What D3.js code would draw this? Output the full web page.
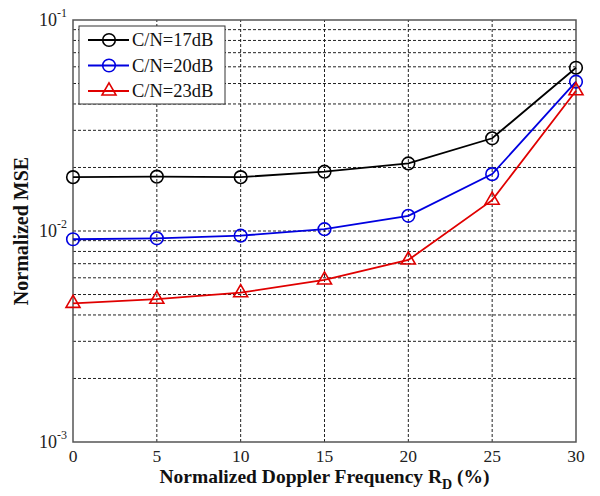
<!DOCTYPE html>
<html>
<head>
<meta charset="utf-8">
<script src="https://cdn.jsdelivr.net/npm/d3@7"></script>
<style>
  body { margin: 0; background: #fff; }
  svg text { font-family: "Liberation Serif", "Times New Roman", serif; }
</style>
</head>
<body>
<div id="chart"></div>
<script>
// data
const dopplerPct = [0, 5, 10, 15, 20, 25, 30];
const mse17 = [0.0180, 0.0181, 0.0180, 0.0191, 0.0209, 0.0275, 0.0594];
const mse20 = [0.00914, 0.00923, 0.0095, 0.0102, 0.0118, 0.0186, 0.0510];
const mse23 = [0.00454, 0.00475, 0.0051, 0.00586, 0.00729, 0.0140, 0.0462];
const seriesNames = ["C/N=17dB", "C/N=20dB", "C/N=23dB"];
const xTicks = [0, 5, 10, 15, 20, 25, 30];
const yDecades = [-3, -2, -1];

const width = 600, height = 496;
const margin = { left: 73, right: 24, top: 20, bottom: 54 };

const svg = d3.select("#chart").append("svg")
  .attr("width", width)
  .attr("height", height);

const x = d3.scaleLinear().domain([0, 30]).range([margin.left, width - margin.right]);
const y = d3.scaleLog().domain([1e-3, 1e-1]).range([height - margin.bottom, margin.top]);

// grid lines (dashed), minor log lines too
const grid = svg.append("g");
const yGrid = [];
for (let e = -3; e < -1; e++) {
  for (let m = 1; m <= 9; m++) {
    const v = m * Math.pow(10, e);
    if (v > 1e-3) yGrid.push(v);
  }
}
grid.selectAll("line.hg")
  .data(yGrid)
  .join("line")
  .attr("class", "hg")
  .attr("x1", x(0)).attr("x2", x(30))
  .attr("y1", d => y(d)).attr("y2", d => y(d))
  .attr("stroke", "#222")
  .attr("stroke-width", 1)
  .attr("stroke-dasharray", "3,2");
grid.selectAll("line.vg")
  .data(xTicks.slice(1, -1))
  .join("line")
  .attr("class", "vg")
  .attr("x1", d => x(d)).attr("x2", d => x(d))
  .attr("y1", y(1e-3)).attr("y2", y(1e-1))
  .attr("stroke", "#222")
  .attr("stroke-width", 1)
  .attr("stroke-dasharray", "3,2");

// axes box
svg.append("rect")
  .attr("x", x(0)).attr("y", y(1e-1))
  .attr("width", x(30) - x(0))
  .attr("height", y(1e-3) - y(1e-1))
  .attr("fill", "none")
  .attr("stroke", "#555")
  .attr("stroke-width", 1.5);

// x tick labels
svg.append("g")
  .selectAll("text")
  .data(xTicks)
  .join("text")
  .attr("x", d => x(d))
  .attr("y", y(1e-3) + 20)
  .attr("text-anchor", "middle")
  .attr("font-size", 17.5)
  .attr("fill", "#222")
  .text(d => d);

// y tick labels 10^n
const yLab = svg.append("g")
  .selectAll("text")
  .data(yDecades)
  .join("text")
  .attr("x", x(0) - 34)
  .attr("y", d => y(Math.pow(10, d)) + 6)
  .attr("font-size", 18)
  .attr("fill", "#222");
yLab.append("tspan").text("10");
yLab.append("tspan")
  .attr("dy", -9)
  .attr("font-size", 12)
  .text(d => "-" + Math.abs(d));

// axis titles
svg.append("text")
  .attr("x", (x(0) + x(30)) / 2)
  .attr("y", 483)
  .attr("text-anchor", "middle")
  .attr("font-size", 19.5)
  .attr("font-weight", "bold")
  .attr("fill", "#111")
  .call(t => {
    t.append("tspan").text("Normalized Doppler Frequency R");
    t.append("tspan").attr("dy", 6).attr("font-size", 14).text("D");
    t.append("tspan").attr("dy", -6).text(" (%)");
  });

svg.append("text")
  .attr("transform", "translate(28," + ((y(1e-3) + y(1e-1)) / 2) + ") rotate(-90)")
  .attr("text-anchor", "middle")
  .attr("font-size", 20)
  .attr("font-weight", "bold")
  .attr("fill", "#111")
  .text("Normalized MSE");

// series
const series = [
  { name: seriesNames[0], vals: mse17, color: "#000", marker: "circle" },
  { name: seriesNames[1], vals: mse20, color: "#0000e0", marker: "circle" },
  { name: seriesNames[2], vals: mse23, color: "#e00000", marker: "triangle" }
];

const line = d3.line()
  .x(d => x(d[0]))
  .y(d => y(d[1]));

const tri = d3.symbol().type(d3.symbolTriangle).size(85);

function drawMarker(g, s) {
  if (s.marker === "circle") {
    g.append("circle")
      .attr("r", 6.3)
      .attr("fill", "none")
      .attr("stroke", s.color)
      .attr("stroke-width", 1.6);
  } else {
    g.append("path")
      .attr("d", tri)
      .attr("fill", "none")
      .attr("stroke", s.color)
      .attr("stroke-width", 1.6);
  }
}

series.forEach(s => {
  const pts = dopplerPct.map((d, i) => [d, s.vals[i]]);
  svg.append("path")
    .datum(pts)
    .attr("d", line)
    .attr("fill", "none")
    .attr("stroke", s.color)
    .attr("stroke-width", 1.8);
  pts.forEach(p => {
    const g = svg.append("g")
      .attr("transform", "translate(" + x(p[0]) + "," + y(p[1]) + ")");
    drawMarker(g, s);
  });
});

// legend
const lg = svg.append("g").attr("transform", "translate(79,26)");
lg.append("rect")
  .attr("width", 146).attr("height", 78)
  .attr("fill", "#fff")
  .attr("stroke", "#333")
  .attr("stroke-width", 1);
series.forEach((s, i) => {
  const yy = 14 + i * 25.5;
  lg.append("line")
    .attr("x1", 9).attr("x2", 50)
    .attr("y1", yy).attr("y2", yy)
    .attr("stroke", s.color)
    .attr("stroke-width", 1.8);
  const g = lg.append("g").attr("transform", "translate(30," + yy + ")");
  drawMarker(g, s);
  lg.append("text")
    .attr("x", 53)
    .attr("y", yy + 6)
    .attr("font-size", 18.5)
    .attr("fill", "#111")
    .text(s.name);
});
</script>
</body>
</html>
